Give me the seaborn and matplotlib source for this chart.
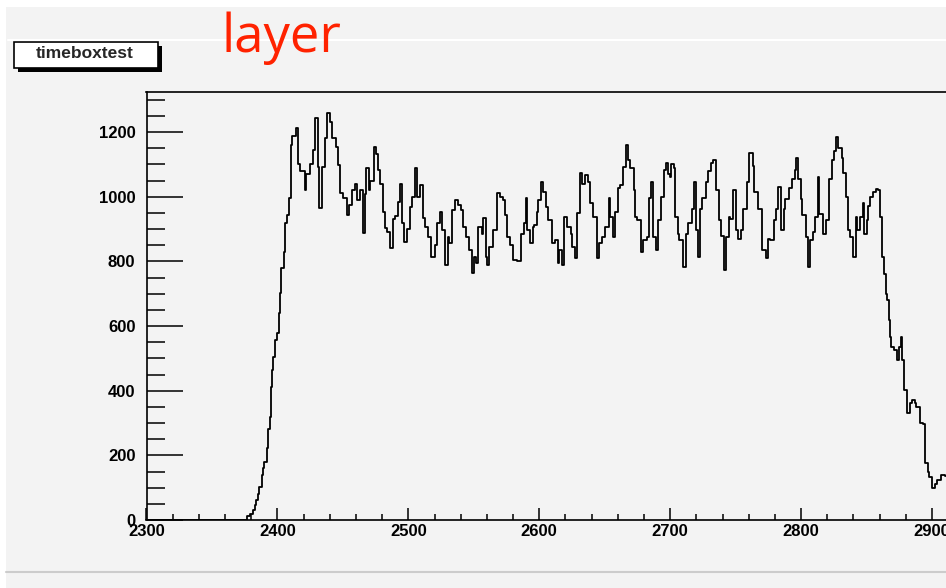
import numpy as np
import matplotlib
matplotlib.use("Agg")
import matplotlib.pyplot as plt
import seaborn as sns
from matplotlib.patches import Rectangle
from matplotlib.lines import Line2D
from matplotlib.ticker import MultipleLocator

# histogram: left edge of each bin and its content
rise_left = [2300, 2377, 2379, 2381, 2383, 2384, 2385, 2386, 2388, 2389, 2390, 2392,
             2393, 2394, 2395, 2396, 2397, 2398, 2400, 2401, 2402, 2403, 2405, 2406,
             2407, 2409]
rise_counts = [0, 12, 20, 30, 45, 62, 80, 102, 139, 160, 179, 222,
               280, 319, 411, 464, 505, 557, 578, 640, 702, 779, 829, 918,
               943, 996]

plateau_left = [2410, 2411, 2414, 2416, 2417, 2421, 2422, 2425, 2427, 2429, 2431, 2432,
                2434, 2436, 2438, 2440, 2442, 2445, 2446, 2448, 2450, 2453, 2455, 2457,
                2459, 2461, 2463, 2465, 2467, 2468, 2470, 2471, 2474, 2475, 2477, 2478,
                2481, 2482, 2484, 2486, 2488, 2490, 2492, 2494, 2495, 2497, 2499, 2501,
                2503, 2505, 2507, 2509, 2511, 2513, 2515, 2517, 2520, 2522, 2524, 2526,
                2528, 2530, 2531, 2533, 2536, 2538, 2540, 2542, 2544, 2546, 2549, 2550,
                2552, 2553, 2556, 2557, 2559, 2560, 2562, 2565, 2568, 2570, 2572, 2574,
                2575, 2578, 2580, 2583, 2586, 2588, 2590, 2591, 2593, 2595, 2596, 2598,
                2599, 2601, 2603, 2605, 2607, 2610, 2612, 2614, 2615, 2617, 2619, 2621,
                2624, 2625, 2627, 2629, 2631, 2633, 2635, 2637, 2639, 2641, 2644, 2646,
                2648, 2650, 2653, 2654, 2656, 2658, 2660, 2662, 2664, 2666, 2668, 2669,
                2672, 2673, 2675, 2678, 2679, 2682, 2684, 2685, 2687, 2689, 2691, 2693,
                2695, 2697, 2698, 2700, 2701, 2703, 2704, 2706, 2707, 2710, 2712, 2714,
                2717, 2718, 2720, 2721, 2723, 2724, 2727, 2729, 2731, 2733, 2735, 2737,
                2739, 2741, 2743, 2745, 2746, 2748, 2750, 2752, 2754, 2756, 2759, 2760,
                2763, 2764, 2767, 2770, 2773, 2775, 2776, 2779, 2781, 2782, 2785, 2787,
                2788, 2791, 2793, 2795, 2796, 2798, 2800, 2801, 2804, 2805, 2807, 2809,
                2811, 2813, 2814, 2817, 2819, 2821, 2824, 2825, 2827, 2828, 2831, 2832,
                2834, 2836, 2837, 2840, 2842, 2843, 2845, 2847, 2848, 2850, 2851, 2853,
                2855, 2857, 2859, 2860]
plateau_counts = [1160, 1188, 1212, 1100, 1080, 1020, 1070, 1100, 1144, 1243, 1092, 965,
                  1092, 1181, 1259, 1230, 1181, 1154, 1098, 1011, 996, 943, 974, 1020,
                  1040, 990, 1020, 888, 1010, 1089, 1020, 1050, 1154, 1133, 1083, 1040,
                  953, 903, 890, 841, 930, 940, 983, 1040, 920, 860, 900, 968,
                  999, 1089, 1000, 1036, 934, 906, 875, 813, 850, 918, 953, 897,
                  789, 875, 856, 959, 990, 975, 959, 906, 875, 835, 764, 813,
                  795, 906, 885, 934, 813, 789, 845, 897, 1011, 1000, 990, 943,
                  875, 850, 804, 800, 885, 918, 996, 897, 856, 906, 912, 953,
                  990, 1045, 1015, 968, 928, 856, 866, 795, 835, 789, 937, 906,
                  885, 845, 810, 950, 1073, 1040, 1068, 1045, 980, 937, 810, 856,
                  875, 906, 996, 937, 875, 953, 1027, 1037, 1092, 1160, 1113, 1089,
                  1020, 937, 928, 829, 866, 875, 996, 1045, 875, 835, 928, 999,
                  1083, 1104, 1070, 1060, 1100, 1090, 937, 885, 866, 783, 885, 918,
                  962, 1045, 897, 813, 962, 997, 1045, 1080, 1104, 1115, 1020, 928,
                  880, 773, 875, 937, 930, 1020, 897, 870, 897, 962, 1045, 1135,
                  1095, 1015, 962, 835, 810, 870, 866, 928, 962, 1030, 897, 962,
                  993, 1027, 1054, 1083, 1120, 1054, 993, 943, 875, 783, 866, 890,
                  937, 1061, 947, 885, 928, 1054, 1113, 1140, 1185, 1150, 1120, 1073,
                  999, 897, 875, 813, 937, 897, 937, 980, 885, 928, 970, 1000,
                  1015, 1025, 1020, 937]

fall_left = [2862, 2863, 2865, 2866, 2867, 2868, 2869, 2871, 2873, 2875, 2876, 2877,
             2879, 2881, 2883, 2885, 2887, 2888, 2891, 2893, 2895, 2897, 2898, 2900,
             2902, 2904, 2907, 2910]
fall_counts = [813, 760, 700, 680, 620, 566, 535, 526, 495, 535, 566, 495,
               402, 331, 362, 370, 362, 350, 300, 296, 176, 148, 133, 99,
               110, 124, 140, 135]
last_edge = 2916

hist_title = "timeboxtest"
overlay_text = "layer"

# step outline: every bin edge, last content repeated to close the last bin
edges = np.array(rise_left + plateau_left + fall_left + [last_edge], dtype=float)
counts = np.array(rise_counts + plateau_counts + fall_counts, dtype=float)
step_y = np.append(counts, counts[-1])

sns.set_style("ticks")
plt.rcParams["font.family"] = ["Liberation Sans Narrow", "Liberation Sans", "DejaVu Sans"]
plt.rcParams["font.weight"] = "bold"

bg = "#f3f3f3"
W, H = 946, 588
fig = plt.figure(figsize=(W / 100, H / 100), dpi=100, facecolor=bg)

ax = fig.add_axes([146.5 / W, 68 / H, (W - 146.5) / W, 428 / H])
ax.set_facecolor(bg)
sns.lineplot(x=edges, y=step_y, drawstyle="steps-post", estimator=None, sort=False,
             color="black", linewidth=1.3, ax=ax)

ax.set_xlim(2300, 2910.7)
ax.set_ylim(0, 1324)
ax.set_xlabel("")
ax.set_ylabel("")

ax.xaxis.set_major_locator(MultipleLocator(100))
ax.xaxis.set_minor_locator(MultipleLocator(20))
ax.yaxis.set_major_locator(MultipleLocator(200))
ax.yaxis.set_minor_locator(MultipleLocator(50))
ax.tick_params(axis="both", which="both", direction="in", width=1.1, colors="black")
ax.tick_params(axis="y", which="major", length=26, pad=8, labelsize=12)
ax.tick_params(axis="y", which="minor", length=13)
ax.tick_params(axis="x", which="major", length=8.6, pad=3, labelsize=12)
ax.tick_params(axis="x", which="minor", length=4.3)

ax.spines["right"].set_visible(False)
for s in ["left", "top", "bottom"]:
    ax.spines[s].set_linewidth(1.2)
    ax.spines[s].set_color("black")

# canvas decorations (ROOT style frame)
fig.add_artist(Rectangle((0, 1 - 7 / H), 1, 7 / H, transform=fig.transFigure,
                         facecolor="white", edgecolor="none"))
fig.add_artist(Rectangle((0, 0), 6 / W, 1, transform=fig.transFigure,
                         facecolor="white", edgecolor="none"))
fig.add_artist(Line2D([8 / W, 1], [1 - 40 / H] * 2, transform=fig.transFigure,
                      color="white", lw=1.5))
fig.add_artist(Line2D([6 / W, 1], [1 - 572 / H] * 2, transform=fig.transFigure,
                      color="#cccccc", lw=1.5))

# title box with shadow
fig.add_artist(Rectangle((18 / W, 1 - 72 / H), 144 / W, 26 / H, transform=fig.transFigure,
                         facecolor="black", edgecolor="none"))
fig.add_artist(Rectangle((14 / W, 1 - 68 / H), 144 / W, 26 / H, transform=fig.transFigure,
                         facecolor="white", edgecolor="black", lw=1.2))
fig.text(85 / W, 1 - 54 / H, hist_title, ha="center", va="center", fontsize=12.5,
         family=["Liberation Sans", "DejaVu Sans"])

fig.text(281 / W, 1 - 52 / H, overlay_text, ha="center", va="baseline", fontsize=38,
         color="#ff2200", fontweight="normal", family=["Open Sans", "DejaVu Sans"])

fig.savefig("out.png", dpi=100, facecolor=fig.get_facecolor())
